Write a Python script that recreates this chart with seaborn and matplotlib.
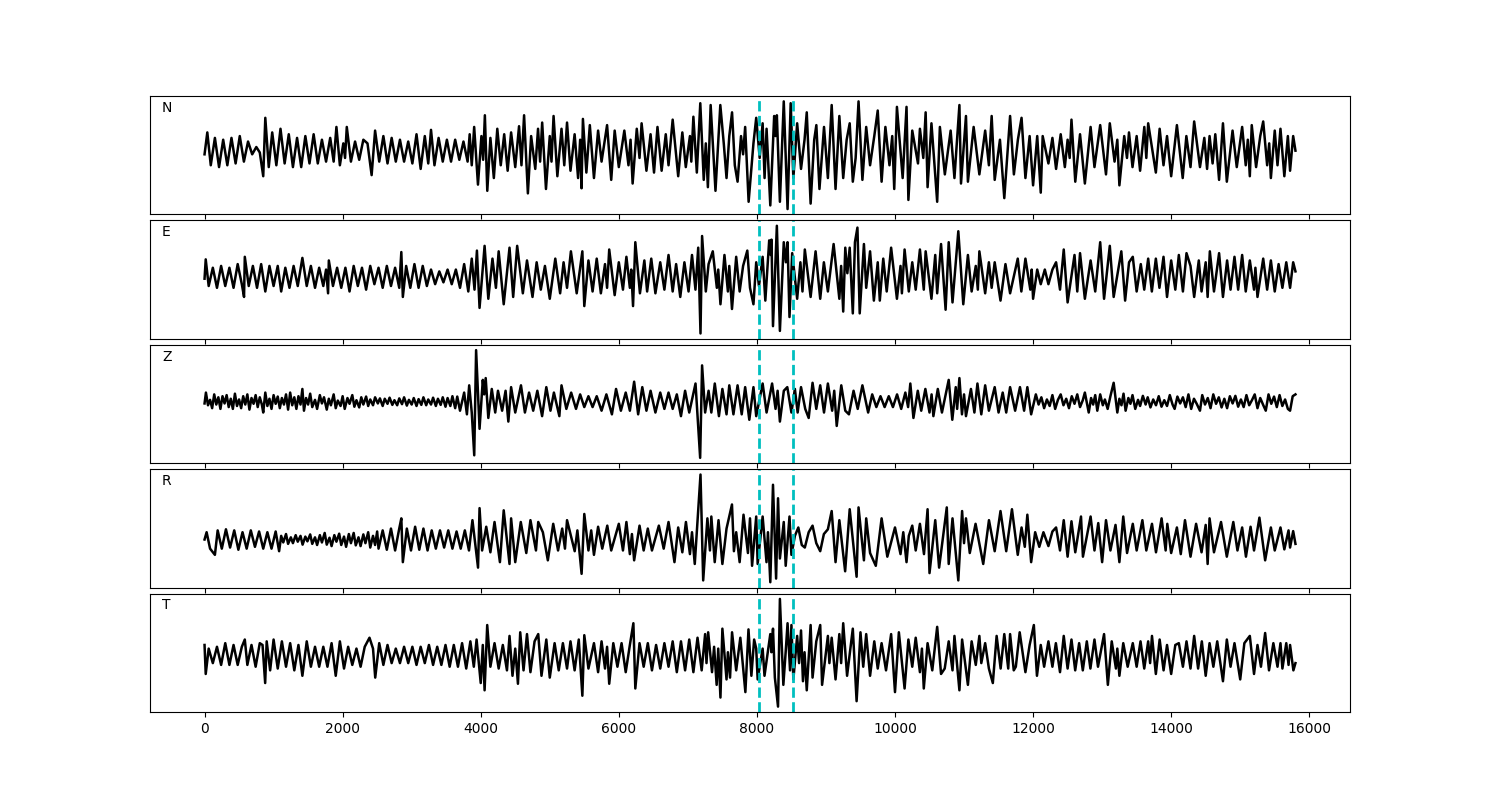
import matplotlib
matplotlib.use("Agg")
import matplotlib.pyplot as plt
import seaborn as sns

# Composantes du sismogramme : (échantillon, amplitude)
components = ["N", "E", "Z", "R", "T"]
picks = [8030, 8530]

trace_n = [
    (0, -10), (40, 50), (90, -40), (150, 35), (210, -45), (270, 30), (330, -40), (390, 35), (450, -35),
    (510, 40), (570, -30), (630, 25), (690, -10), (750, 10), (800, -5), (850, -70), (880, 90), (930, -45),
    (980, 50), (1040, -40), (1100, 60), (1160, -35), (1220, 45), (1280, -45), (1340, 35), (1400, -45),
    (1460, 40), (1520, -35), (1580, 45), (1640, -35), (1700, 30), (1760, -30), (1820, 35), (1870, -30),
    (1910, 65), (1960, -40), (2010, 20), (2035, -20), (2060, 65), (2120, -30), (2180, 25), (2240, -25),
    (2300, 30), (2360, 20), (2420, -67), (2470, 55), (2530, -30), (2590, 40), (2650, -35), (2710, 35),
    (2770, -30), (2830, 30), (2890, -30), (2950, 25), (3010, -35), (3070, 45), (3130, -50), (3190, 40),
    (3240, -35), (3280, 57), (3330, -40), (3390, 35), (3450, -30), (3510, 30), (3570, -30), (3630, 30),
    (3690, -25), (3750, 25), (3810, -30), (3840, 45), (3870, -40), (3905, 65), (3960, -93), (4010, 40),
    (4035, -25), (4060, 97), (4095, -110), (4140, 35), (4190, -75), (4240, 60), (4290, -40), (4340, 45),
    (4390, -55), (4440, 50), (4500, -45), (4555, 67), (4590, -40), (4628, 97), (4683, -117), (4730, 40),
    (4790, -50), (4830, 60), (4860, -30), (4890, 77), (4945, -105), (5000, 40), (5025, -30), (5055, 95),
    (5110, -70), (5170, 60), (5210, -40), (5250, 77), (5300, -55), (5360, 45), (5410, -75), (5440, 30),
    (5460, -103), (5480, 87), (5530, -60), (5580, 70), (5640, -75), (5700, 55), (5750, -30), (5830, 70),
    (5890, -80), (5940, 55), (6000, -45), (6080, 55), (6140, -40), (6170, 30), (6200, -90), (6260, 60),
    (6300, -20), (6330, 75), (6400, -55), (6460, 45), (6510, -60), (6560, 65), (6620, -55), (6680, 45),
    (6720, -40), (6780, 85), (6860, -70), (6920, 50), (6970, -45), (7030, 40), (7050, -30), (7080, 93),
    (7130, -60), (7180, 130), (7230, -80), (7260, 20), (7290, -100), (7330, 125), (7400, -110), (7470, 125),
    (7520, 20), (7560, -75), (7600, 40), (7640, 105), (7680, -40), (7720, -85), (7770, 40), (7800, -10),
    (7830, 65), (7880, -140), (7950, 20), (7990, 90), (8040, -20), (8083, 75), (8111, -75), (8140, 60),
    (8194, -150), (8250, 95), (8270, 40), (8289, 97), (8333, -140), (8389, 135), (8444, -160), (8489, 130),
    (8528, -75), (8583, 75), (8639, -50), (8690, 30), (8722, 105), (8778, -145), (8830, 30), (8861, 70),
    (8906, -105), (8972, 65), (9028, -75), (9083, 125), (9139, -105), (9194, 95), (9250, -75), (9300, 30),
    (9344, 75), (9389, -85), (9430, -20), (9472, 135), (9528, -80), (9583, 65), (9639, -40), (9700, 40),
    (9750, 110), (9806, -85), (9861, 65), (9920, -40), (9960, 40), (9989, -105), (10028, 120), (10111, -75),
    (10167, 120), (10194, -135), (10250, 55), (10333, -35), (10361, 60), (10410, -20), (10444, 105),
    (10472, -100), (10528, 75), (10611, -140), (10650, 65), (10722, -65), (10806, 55), (10861, -75),
    (10933, 125), (10956, -90), (11028, 95), (11056, -85), (11139, 65), (11222, -65), (11306, 55),
    (11360, -40), (11400, 95), (11444, -80), (11520, 30), (11583, -130), (11667, 95), (11722, -65),
    (11780, 30), (11833, 90), (11889, -75), (11950, 40), (12000, -95), (12060, 40), (12111, -115),
    (12139, 40), (12222, -35), (12280, 35), (12333, -50), (12400, 45), (12460, -45), (12500, 30),
    (12530, -20), (12556, 85), (12611, -85), (12680, 45), (12750, -90), (12833, 65), (12889, -45),
    (12972, 70), (13056, -65), (13111, 75), (13180, -30), (13220, 30), (13250, -95), (13320, 40),
    (13360, -20), (13389, 50), (13440, -45), (13500, 40), (13550, -55), (13611, 65), (13640, -20),
    (13667, 75), (13720, 10), (13778, -60), (13833, 60), (13889, -40), (13940, 40), (14000, -70),
    (14083, 70), (14167, -75), (14220, 40), (14280, -45), (14333, 80), (14417, -45), (14480, 35),
    (14520, -50), (14556, 40), (14600, -35), (14639, 45), (14694, -80), (14750, 75), (14806, -85),
    (14889, 55), (14950, -45), (15028, 65), (15080, -40), (15110, 30), (15139, -70), (15167, 70),
    (15230, -45), (15290, 40), (15333, 80), (15390, -40), (15420, 20), (15444, -75), (15500, 55),
    (15540, -40), (15583, 60), (15639, -70), (15690, 40), (15722, -55), (15767, 40), (15800, 0),
]

trace_e = [
    (0, -5), (17, 48), (60, -25), (120, 25), (180, -30), (240, 30), (300, -25), (360, 25), (420, -30),
    (480, 35), (540, -20), (572, -55), (583, 55), (640, -25), (700, 30), (760, -30), (820, 35), (880, -40),
    (940, 30), (1000, -25), (1060, 30), (1110, -40), (1170, 25), (1230, -30), (1290, 30), (1350, -25),
    (1417, 52), (1480, -25), (1540, 30), (1600, -30), (1660, 25), (1720, -25), (1760, 20), (1789, -45),
    (1800, 45), (1860, -25), (1920, 25), (1980, -30), (2040, 25), (2100, -40), (2160, 30), (2220, -25),
    (2280, 25), (2340, -35), (2400, 30), (2460, -20), (2520, 25), (2580, -30), (2640, 30), (2700, -25),
    (2760, 25), (2820, -30), (2850, 68), (2872, -55), (2920, 30), (2980, -30), (3040, 35), (3100, -30),
    (3160, 30), (3220, -25), (3280, 20), (3340, -20), (3400, 15), (3460, -15), (3520, 20), (3580, -20),
    (3640, 20), (3700, -30), (3760, 35), (3820, -40), (3870, 50), (3910, -35), (3945, 72), (3983, -85),
    (4056, 85), (4110, -60), (4170, 50), (4220, -30), (4260, 70), (4333, -75), (4417, 80), (4470, -55),
    (4528, 85), (4610, -45), (4670, 45), (4750, -55), (4810, 40), (4870, -35), (4930, 30), (5000, -60),
    (5080, 50), (5150, -45), (5200, 40), (5250, -30), (5306, 70), (5390, -45), (5472, 70), (5500, -80),
    (5560, 45), (5620, -40), (5680, 50), (5740, -45), (5800, 35), (5830, -30), (5861, 75), (5940, -50),
    (6000, 40), (6060, -35), (6110, 55), (6160, -30), (6180, 20), (6206, -80), (6239, 95), (6306, -45),
    (6370, 45), (6410, -40), (6470, 50), (6530, -45), (6600, 40), (6660, -35), (6720, 60), (6780, -40),
    (6830, 35), (6890, -55), (6950, 40), (7010, -40), (7060, 60), (7110, -35), (7150, 80), (7183, -155),
    (7206, 112), (7260, -40), (7300, 35), (7361, 70), (7420, -30), (7440, 20), (7472, -75), (7530, 60),
    (7580, -40), (7600, 30), (7639, -88), (7700, 55), (7750, -40), (7800, 30), (7861, 72), (7900, -30),
    (7950, -75), (7990, 40), (8030, -25), (8083, 55), (8122, -65), (8178, 100), (8200, 60), (8211, 102),
    (8233, -135), (8289, 140), (8333, -148), (8389, 95), (8420, 40), (8444, 95), (8472, -110), (8511, 65),
    (8583, -60), (8630, 40), (8660, -40), (8694, 75), (8778, -55), (8850, 70), (8917, -60), (8970, 40),
    (9028, -40), (9111, 90), (9194, -60), (9220, 30), (9250, -95), (9280, 80), (9310, 10), (9344, 80),
    (9389, -100), (9420, 95), (9456, 135), (9489, -100), (9550, 90), (9583, -30), (9639, 70), (9694, -65),
    (9750, 40), (9780, -65), (9830, 50), (9880, -40), (9944, 80), (10028, -60), (10080, 30), (10100, -45),
    (10139, 75), (10200, -40), (10250, 40), (10300, -35), (10361, 75), (10417, -35), (10444, 70),
    (10528, -60), (10583, 60), (10611, -45), (10667, 90), (10733, -90), (10778, 95), (10833, -70),
    (10917, 125), (10989, -75), (11056, 60), (11110, -40), (11170, 30), (11200, -35), (11222, 70),
    (11306, -45), (11360, 40), (11400, -30), (11444, 40), (11528, -65), (11600, 35), (11667, -45),
    (11778, 50), (11830, -40), (11889, 50), (11960, -35), (11980, 20), (12000, -60), (12060, 20),
    (12111, -20), (12170, 20), (12222, -20), (12280, 20), (12333, 40), (12390, -35), (12444, 75),
    (12500, -70), (12600, 60), (12640, -40), (12680, 65), (12750, -60), (12833, 45), (12900, -40),
    (12972, 95), (13028, -60), (13111, 85), (13167, -55), (13278, 70), (13333, -65), (13390, 40),
    (13444, 55), (13500, -40), (13560, 35), (13610, -35), (13667, 50), (13720, -40), (13778, 50),
    (13830, -30), (13889, 55), (13940, -55), (14000, 45), (14060, -35), (14111, 60), (14170, -40),
    (14222, 65), (14280, 30), (14333, -55), (14400, 45), (14440, -40), (14500, 40), (14528, -55),
    (14560, 70), (14620, -40), (14694, 65), (14750, -55), (14810, 45), (14860, -35), (14917, 55),
    (14970, -35), (15028, 60), (15080, -40), (15139, 45), (15200, -35), (15220, 25), (15250, -55),
    (15333, 50), (15390, -35), (15444, 45), (15500, -40), (15556, 35), (15611, -30), (15667, 40),
    (15722, -30), (15767, 40), (15800, 15),
]

trace_z = [
    (0, -5), (20, 25), (50, -10), (80, 5), (110, -18), (140, 20), (170, -8), (200, 12), (230, -20),
    (260, 15), (290, -5), (320, 18), (350, -15), (380, 8), (410, -20), (440, 22), (470, -12), (500, 6),
    (530, -18), (560, 15), (590, -8), (620, 20), (650, -22), (680, 10), (710, -6), (740, 18), (770, -15),
    (800, 12), (830, -8), (850, -30), (880, 25), (910, -12), (940, 8), (970, -20), (1000, 18), (1030, -6),
    (1060, 14), (1090, -18), (1120, 10), (1150, -8), (1180, 20), (1210, -22), (1240, 25), (1270, -10),
    (1300, 12), (1330, -20), (1360, 15), (1390, -8), (1417, 35), (1440, -25), (1470, 10), (1500, -8),
    (1530, 22), (1560, -15), (1600, 5), (1630, -20), (1670, 18), (1700, -5), (1730, 12), (1770, -22),
    (1800, 8), (1830, -10), (1870, 20), (1900, -18), (1930, 3), (1970, -12), (2000, 15), (2030, -20),
    (2070, 10), (2100, -6), (2140, 18), (2170, -14), (2200, 4), (2240, -16), (2270, 12), (2300, -8),
    (2340, 14), (2370, -12), (2400, 6), (2440, -10), (2470, 12), (2510, -5), (2540, 9), (2580, -12),
    (2610, 8), (2650, -6), (2680, 11), (2720, -9), (2750, 4), (2790, -10), (2820, 9), (2860, -7),
    (2890, 12), (2930, -11), (2960, 5), (3000, -8), (3030, 10), (3070, -12), (3100, 7), (3140, -9),
    (3170, 12), (3210, -10), (3240, 6), (3280, -8), (3310, 11), (3350, -12), (3380, 8), (3420, -9),
    (3450, 12), (3490, -14), (3520, 10), (3560, -12), (3590, 15), (3630, -18), (3660, 14), (3700, -25),
    (3760, 25), (3800, -35), (3833, 45), (3870, -30), (3906, -148), (3933, 142), (3983, -75), (4030, 60),
    (4050, 20), (4072, 65), (4110, -45), (4160, 35), (4210, -30), (4250, 30), (4310, -25), (4360, 30),
    (4400, -55), (4440, 40), (4500, -30), (4583, 45), (4640, -30), (4700, 25), (4760, -25), (4820, 30),
    (4889, -40), (4950, 40), (5010, -25), (5060, 25), (5139, -40), (5170, 45), (5240, -20), (5310, 25),
    (5380, -20), (5440, 20), (5500, -15), (5560, 15), (5620, -15), (5680, 15), (5750, -25), (5820, 20),
    (5900, -35), (5960, 35), (6030, -25), (6100, 25), (6160, -25), (6222, 55), (6280, -35), (6340, 40),
    (6400, -25), (6460, 30), (6530, -30), (6600, 25), (6660, -20), (6720, 25), (6780, -20), (6840, 20),
    (6900, -40), (6960, 30), (7020, -30), (7111, 50), (7178, -155), (7206, 100), (7250, -30), (7300, 30),
    (7340, -30), (7390, 50), (7450, -40), (7500, 35), (7560, -35), (7600, 45), (7660, -35), (7720, 45),
    (7780, -35), (7830, 40), (7890, -50), (7950, 40), (7990, -40), (8083, 50), (8140, -30), (8220, 50),
    (8270, -20), (8300, 30), (8333, -55), (8390, 30), (8440, 40), (8500, -30), (8550, 35), (8590, -30),
    (8639, 40), (8700, -20), (8750, -45), (8806, 52), (8860, -20), (8917, 45), (8972, -30), (9028, 50),
    (9090, -25), (9120, 30), (9156, -67), (9222, 45), (9280, -25), (9333, -35), (9400, 30), (9460, -20),
    (9528, 45), (9611, -30), (9670, 20), (9730, -15), (9790, 15), (9850, -15), (9910, 15), (9970, -15),
    (10030, 20), (10090, -20), (10150, 25), (10190, -15), (10222, 50), (10267, -45), (10330, 30),
    (10380, -25), (10440, 35), (10500, -30), (10530, 20), (10556, -40), (10620, 35), (10680, -30),
    (10778, 60), (10830, -50), (10880, 40), (10900, -20), (10933, 65), (10970, -35), (11000, 20),
    (11028, -40), (11100, 35), (11150, -30), (11194, 50), (11250, -35), (11306, 45), (11360, -25),
    (11444, 40), (11500, -30), (11560, 25), (11611, -30), (11667, 40), (11740, -25), (11810, 40),
    (11870, -25), (11917, 40), (11972, -35), (12040, 20), (12080, -8), (12120, 12), (12160, -18),
    (12200, 6), (12240, -12), (12280, 18), (12320, -20), (12360, 5), (12400, 20), (12440, -10),
    (12480, 8), (12520, -18), (12560, 15), (12600, -6), (12640, 20), (12680, -15), (12720, 4),
    (12750, 25), (12806, -30), (12840, 10), (12870, -8), (12900, 18), (12930, -25), (12972, 20),
    (13010, -10), (13040, 6), (13080, -20), (13120, 15), (13167, 52), (13220, -30), (13250, 8),
    (13280, -10), (13310, 22), (13340, -25), (13380, 10), (13410, -6), (13440, 18), (13480, -20),
    (13520, 5), (13550, -12), (13590, 16), (13630, -8), (13660, 12), (13700, -16), (13740, 6),
    (13780, -10), (13820, 15), (13860, -14), (13900, 4), (13940, -12), (13980, 18), (14020, -8),
    (14050, -20), (14090, 14), (14130, -5), (14170, 12), (14210, -15), (14250, 20), (14290, -20),
    (14330, 8), (14370, -6), (14417, -25), (14450, 18), (14490, -8), (14530, 10), (14570, -18),
    (14610, 20), (14650, -6), (14690, 12), (14730, -16), (14770, 8), (14810, -18), (14850, 15),
    (14890, -5), (14930, 16), (14970, -14), (15010, 6), (15050, -15), (15090, 18), (15130, -10),
    (15170, 4), (15210, 20), (15250, -18), (15290, 10), (15330, -8), (15370, -25), (15410, 20),
    (15450, -6), (15490, 14), (15530, -15), (15570, 18), (15610, -12), (15650, 6), (15690, -20),
    (15722, -25), (15760, 15), (15800, 20),
]

trace_r = [
    (0, 0), (30, 20), (80, -25), (150, -42), (190, 25), (250, -25), (310, 28), (370, -22), (430, 25),
    (490, -28), (550, 20), (610, -25), (670, 25), (730, -20), (790, 22), (850, -25), (910, 20), (970, -25),
    (1030, 22), (1080, -32), (1110, 10), (1140, -8), (1180, 15), (1210, -12), (1250, 6), (1280, -10),
    (1320, 12), (1350, -6), (1390, 10), (1420, -14), (1460, 8), (1490, -5), (1530, 14), (1560, -12),
    (1600, 6), (1630, -15), (1670, 12), (1700, -8), (1740, 18), (1770, -14), (1810, 5), (1840, -18),
    (1880, 12), (1910, -6), (1950, 16), (1980, -15), (2020, 8), (2050, -20), (2090, 15), (2120, -10),
    (2160, 18), (2190, -16), (2230, 6), (2260, -18), (2300, 14), (2330, -10), (2370, 20), (2400, -22),
    (2440, 10), (2470, -15), (2500, 22), (2520, -25), (2580, 25), (2640, -28), (2700, 30), (2760, -30),
    (2820, 30), (2850, 58), (2872, -62), (2930, 30), (2990, -30), (3050, 35), (3110, -28), (3170, 30),
    (3230, -30), (3290, 25), (3350, -25), (3410, 25), (3470, -22), (3530, 25), (3590, -25), (3650, 22),
    (3710, -25), (3770, 25), (3830, -30), (3880, 53), (3961, -77), (3983, 86), (4020, -30), (4080, 35),
    (4140, -35), (4200, 48), (4278, -62), (4333, 80), (4417, -67), (4440, 58), (4500, -62), (4580, 48),
    (4660, -37), (4720, 53), (4800, -30), (4833, 48), (4900, 20), (4972, -57), (5050, 43), (5120, -30),
    (5180, 30), (5220, -25), (5250, 53), (5361, -32), (5400, 25), (5461, -94), (5500, 70), (5560, -30),
    (5600, 25), (5640, -42), (5700, 35), (5760, -25), (5833, 38), (5890, -30), (6000, 43), (6060, -30),
    (6110, 48), (6160, -40), (6190, 15), (6222, -57), (6300, 38), (6360, -30), (6420, 30), (6480, -30),
    (6580, 38), (6650, -25), (6720, 48), (6806, -62), (6860, 33), (6920, -35), (6972, 48), (7030, -40),
    (7060, 20), (7100, -67), (7183, 178), (7222, -112), (7283, 58), (7320, -30), (7340, 63), (7389, -62),
    (7444, 53), (7500, -67), (7560, 30), (7639, 96), (7667, -32), (7700, 20), (7750, -62), (7806, 68),
    (7870, -37), (7900, 58), (7930, -72), (7990, 63), (8011, -67), (8083, 63), (8139, -62), (8160, 20),
    (8194, -117), (8233, 150), (8278, -107), (8306, 113), (8333, -52), (8389, 48), (8417, -72),
    (8472, 63), (8500, -42), (8550, 10), (8600, 33), (8650, -15), (8694, -22), (8750, 20), (8806, 38),
    (8860, -10), (8917, -32), (8970, 15), (9028, 28), (9083, 78), (9139, -62), (9194, 53), (9278, -87),
    (9344, 83), (9444, -102), (9472, 88), (9550, -57), (9583, 58), (9639, -37), (9722, -72), (9806, 58),
    (9889, -47), (10000, 33), (10080, -40), (10120, 20), (10167, -62), (10200, 10), (10250, 38),
    (10300, -30), (10361, 43), (10420, -40), (10472, 83), (10500, -92), (10583, 53), (10639, -77),
    (10750, 88), (10778, -67), (10833, 58), (10917, -112), (10972, 78), (11000, -10), (11028, 58),
    (11083, -37), (11167, 43), (11278, -67), (11361, 53), (11444, -32), (11528, 78), (11611, -32),
    (11694, 83), (11778, -42), (11833, 33), (11880, -20), (11917, 68), (11972, -62), (12030, 20),
    (12090, -20), (12150, 20), (12222, -18), (12280, 22), (12333, 33), (12390, -30), (12444, 53),
    (12500, -47), (12556, 50), (12611, -35), (12694, 63), (12722, -47), (12833, 63), (12889, -30),
    (12944, 45), (13000, -62), (13056, 53), (13120, -30), (13194, 40), (13250, -62), (13306, 63),
    (13361, -37), (13444, 43), (13500, -30), (13583, 53), (13640, -30), (13722, 43), (13780, -35),
    (13861, 58), (13920, -30), (13944, 43), (14000, -37), (14083, 33), (14139, -40), (14200, 53),
    (14280, -47), (14361, 43), (14440, -35), (14500, 40), (14528, -67), (14556, 58), (14620, -35),
    (14722, 48), (14806, -47), (14900, 48), (14960, -30), (15028, 33), (15083, -47), (15150, 35),
    (15200, -30), (15278, 60), (15361, -57), (15444, 33), (15500, -30), (15583, 33), (15639, -27),
    (15700, 25), (15722, -22), (15767, 23), (15800, -12),
]

trace_t = [
    (0, 30), (17, -50), (60, 20), (120, -20), (180, 25), (240, -25), (300, 35), (360, -25), (420, 30),
    (480, -25), (540, 25), (583, 45), (620, -25), (680, 30), (740, -30), (800, 35), (840, 30), (878, -75),
    (900, 40), (950, -40), (1000, 45), (1060, -35), (1120, 40), (1180, -30), (1240, 35), (1300, -40),
    (1360, 30), (1417, -55), (1480, 40), (1540, -30), (1600, 25), (1660, -30), (1720, 25), (1780, -30),
    (1840, 35), (1900, -55), (1960, 40), (2020, -35), (2080, 25), (2140, -25), (2200, 20), (2260, -30),
    (2320, 25), (2389, 50), (2440, 20), (2472, -60), (2530, 35), (2590, -25), (2650, 30), (2710, -20),
    (2770, 20), (2830, -20), (2890, 25), (2950, -20), (3010, 25), (3070, -25), (3130, 25), (3190, -20),
    (3250, 30), (3310, -25), (3370, 25), (3430, -25), (3490, 30), (3550, -30), (3610, 30), (3670, -30),
    (3730, 35), (3790, -35), (3850, 40), (3900, -30), (3940, 45), (4000, -75), (4030, 30), (4056, -95),
    (4094, 85), (4140, -30), (4200, 35), (4260, -35), (4320, 30), (4380, -40), (4417, 55), (4460, -55),
    (4500, 20), (4539, -77), (4572, 65), (4620, -40), (4670, 60), (4720, -45), (4780, 40), (4833, 60),
    (4880, -55), (4950, 45), (5000, -60), (5070, 35), (5130, -40), (5190, 35), (5250, -35), (5300, 40),
    (5360, -40), (5420, 45), (5472, -110), (5500, 57), (5560, -35), (5640, 35), (5700, -45), (5750, 40),
    (5800, -35), (5830, 25), (5861, -77), (5920, 35), (5980, -30), (6040, 35), (6100, -45), (6160, 30),
    (6211, 90), (6239, -90), (6300, 35), (6360, -30), (6420, 35), (6480, -40), (6540, 30), (6600, -35),
    (6660, 35), (6720, -30), (6780, 40), (6840, -45), (6900, 40), (6960, -40), (7020, 45), (7080, -45),
    (7140, 50), (7200, -40), (7250, 60), (7270, -20), (7294, 65), (7350, -45), (7380, 25), (7417, -80),
    (7440, 20), (7472, -115), (7500, 75), (7560, -65), (7580, 10), (7611, -60), (7640, 65), (7700, -40),
    (7760, 50), (7833, -100), (7878, 73), (7920, -55), (7960, 45), (7990, 20), (8011, -65), (8083, 20),
    (8110, -55), (8194, 60), (8210, 10), (8233, 75), (8260, -60), (8306, -140), (8333, 157), (8383, -80),
    (8420, 20), (8444, 90), (8480, -40), (8500, 85), (8528, -65), (8583, 55), (8611, -20), (8639, 70),
    (8667, -70), (8690, 10), (8722, -95), (8778, 85), (8806, -60), (8860, 40), (8917, 85), (8944, -80),
    (9028, 55), (9050, -20), (9083, 50), (9139, -65), (9194, 60), (9220, -20), (9250, 90), (9306, -55),
    (9389, 75), (9444, -125), (9500, 65), (9540, -30), (9583, 60), (9639, -55), (9700, 40), (9750, -35),
    (9806, 35), (9870, -40), (9944, 60), (10000, -100), (10056, 65), (10139, -90), (10194, 45),
    (10250, -30), (10300, 50), (10361, -45), (10390, 20), (10417, -90), (10472, 35), (10540, -40),
    (10611, 80), (10667, -50), (10720, -35), (10778, 40), (10833, -40), (10861, 55), (10933, -95),
    (10972, 45), (11056, -80), (11110, 40), (11170, -25), (11222, 55), (11250, -20), (11306, 35),
    (11360, -35), (11417, -75), (11472, 55), (11530, -35), (11583, 60), (11640, -35), (11667, 60),
    (11720, -40), (11750, -30), (11806, 65), (11889, -45), (11950, 30), (12011, 85), (12056, -55),
    (12111, 30), (12160, -30), (12222, 40), (12280, -30), (12330, 35), (12390, -45), (12444, 55),
    (12500, -35), (12556, 45), (12610, -40), (12667, 35), (12720, -40), (12778, 40), (12830, -35),
    (12889, 45), (12940, -30), (13028, 60), (13083, -80), (13139, 40), (13200, -35), (13220, 20),
    (13250, -55), (13306, 35), (13370, -30), (13444, 35), (13500, -30), (13556, 40), (13610, -35),
    (13667, 40), (13695, -20), (13722, 55), (13778, -50), (13833, 45), (13890, -40), (13940, 30),
    (14000, -50), (14060, 30), (14111, 35), (14170, -30), (14222, 40), (14280, -35), (14333, 55),
    (14390, -35), (14444, 40), (14500, -55), (14556, 35), (14611, -30), (14667, 40), (14750, -70),
    (14806, 45), (14860, -30), (14917, 35), (15000, -65), (15060, 35), (15139, 55), (15200, -50),
    (15250, 30), (15300, -30), (15361, 63), (15417, -40), (15480, 35), (15540, -30), (15583, 35),
    (15611, -35), (15667, 35), (15700, -25), (15722, 30), (15770, -40), (15800, -20),
]

traces = [trace_n, trace_e, trace_z, trace_r, trace_t]

fig, axes = plt.subplots(5, 1, sharex=True, figsize=(15, 8))
plt.subplots_adjust(left=0.1, right=0.9, top=0.88, bottom=0.11, hspace=0.05)

for ax, name, trace in zip(axes, components, traces):
    t = [p[0] for p in trace]
    amp = [p[1] for p in trace]
    sns.lineplot(x=t, y=amp, ax=ax, color="k", linewidth=1.8,
                 estimator=None, sort=False)
    for pick in picks:
        ax.axvline(pick, color="c", linestyle="--", linewidth=2)
    ax.text(0.01, 0.9, name, transform=ax.transAxes, ha="left", va="center", fontsize=10)
    ax.set_yticks([])
    ax.set_ylabel("")

plt.savefig("out.png", dpi=100)
